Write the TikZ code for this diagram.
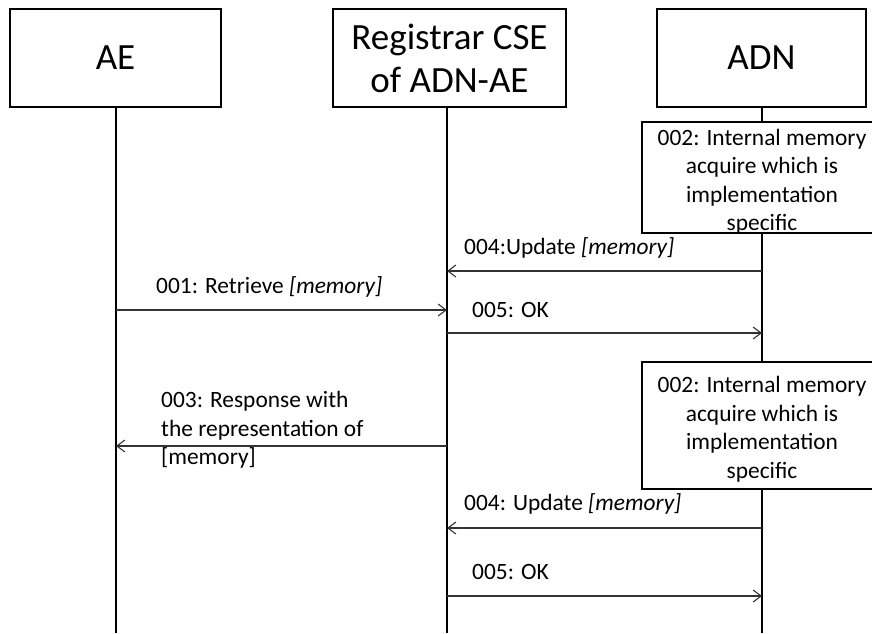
\documentclass[tikz,border=0pt]{standalone}
\usepackage{fontspec}
\setmainfont{Carlito}
\usetikzlibrary{arrows.meta}
\begin{document}
\begin{tikzpicture}[x=1pt,y=-1pt,
  head/.style={draw, line width=2.6pt, minimum width=#1, minimum height=98pt, inner sep=0pt, align=center, font=\fontsize{37}{43}\selectfont},
  lifeline/.style={line width=2.6pt},
  notebox/.style={draw, fill=white, line width=2.2pt, minimum width=240pt, inner sep=0pt},
  notetext/.style={inner sep=0pt, align=center, font=\fontsize{23.4}{28.5}\selectfont},
  msg/.style={line width=1.3pt, draw=black!80, -{Straight Barb[length=8pt,width=12pt,line width=1.1pt]}},
  lbl/.style={anchor=west, inner sep=0pt, font=\fontsize{23.4}{28.5}\selectfont}]
\useasboundingbox (0,0) rectangle (872,633);
\clip (0,0) rectangle (872,633);

% headers
\node[head=211pt] (ae) at (115.5,58) {AE};
\node[head=233pt] (cse) at (449.5,58) {Registrar CSE\\of ADN-AE};
\node[head=209pt] (adn) at (761.5,58) {ADN};

% lifeline ends
\coordinate (aeEnd) at (116,633);
\coordinate (cseEnd) at (447,633);
\coordinate (adnEnd) at (762,633);
\draw[lifeline] (ae.south -| aeEnd) -- (aeEnd);
\draw[lifeline] (cse.south -| cseEnd) -- (cseEnd);
\draw[lifeline] (adn.south -| adnEnd) -- (adnEnd);

% notes
\node[notebox, minimum height=111pt] (n1) at (762,177.5) {};
\node[notetext] (n1t) at (762,182) {002: Internal memory\\acquire which is\\implementation\\specific};
\node[notebox, minimum height=127pt] (n2) at (762,425.5) {};
\node[notetext] (n2t) at (762,429) {002: Internal memory\\acquire which is\\implementation\\specific};

% messages
\draw[msg] (adnEnd |- 0,271) -- (cseEnd |- 0,271);
\node[lbl] (l004a) at (464,248) {004:Update \textit{[memory]}};

\draw[msg] (aeEnd |- 0,310) -- (cseEnd |- 0,310);
\node[lbl] (l001) at (156,287) {001: Retrieve \textit{[memory]}};

\draw[msg] (cseEnd |- 0,333) -- (adnEnd |- 0,333);
\node[lbl] (l005a) at (472,310) {005: OK};

\draw[msg] (cseEnd |- 0,446) -- (aeEnd |- 0,446);
\node[lbl, align=left] (l003) at (161,430) {003: Response with\\the representation of\\{}[memory]};

\draw[msg] (adnEnd |- 0,528) -- (cseEnd |- 0,528);
\node[lbl] (l004b) at (464,504) {004: Update \textit{[memory]}};

\draw[msg] (cseEnd |- 0,596) -- (adnEnd |- 0,596);
\node[lbl] (l005b) at (472,572) {005: OK};
\end{tikzpicture}
\end{document}
